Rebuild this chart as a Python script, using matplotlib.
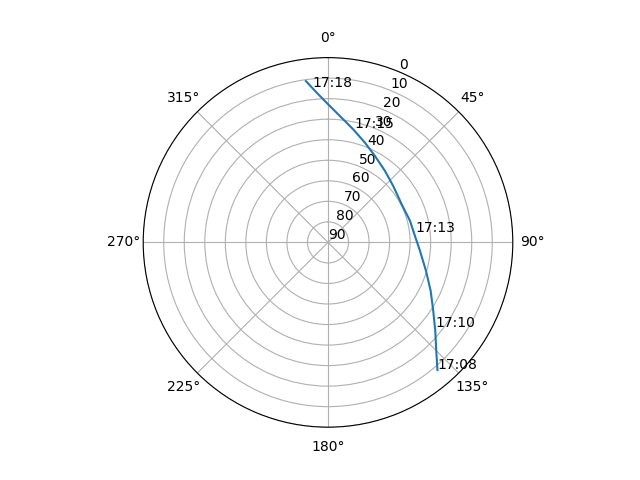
import numpy as np
from matplotlib import pyplot as plt

# satellite pass track, azimuth / elevation in degrees
track_az = [139.4, 135.1, 129.5, 123.0, 115.3, 106.2, 95.3, 82.3, 75.3,
            62.6, 49.1, 38.6, 28.5, 20.3, 12.6, 5.4, 0.1, -4.3, -7.8]
track_el = [8.1, 15.3, 22.3, 28.9, 34.7, 40.3, 45.0, 48.1, 48.7,
            49.6, 48.0, 45.5, 42.1, 38.2, 33.6, 28.2, 22.8, 16.9, 10.7]

# time labels along the track
label_times = ['17:08', '17:10', '17:13', '17:15', '17:18']
label_az = [139.1, 128.2, 83.2, 12.8, -5.7]
label_el = [8.6, 23.5, 47.1, 32.9, 14.0]

fig = plt.figure(figsize=(6.4, 4.8), dpi=100)
ax = fig.add_subplot(projection='polar')
ax.set_theta_zero_location('N')
ax.set_theta_direction(-1)

ax.plot(np.radians(track_az), track_el)
for t, a, e in zip(label_times, label_az, label_el):
    ax.text(np.radians(a), e, t)

ax.set_ylim(90, 0)
ax.set_yticks(range(0, 91, 10))

fig.savefig('out.png')
